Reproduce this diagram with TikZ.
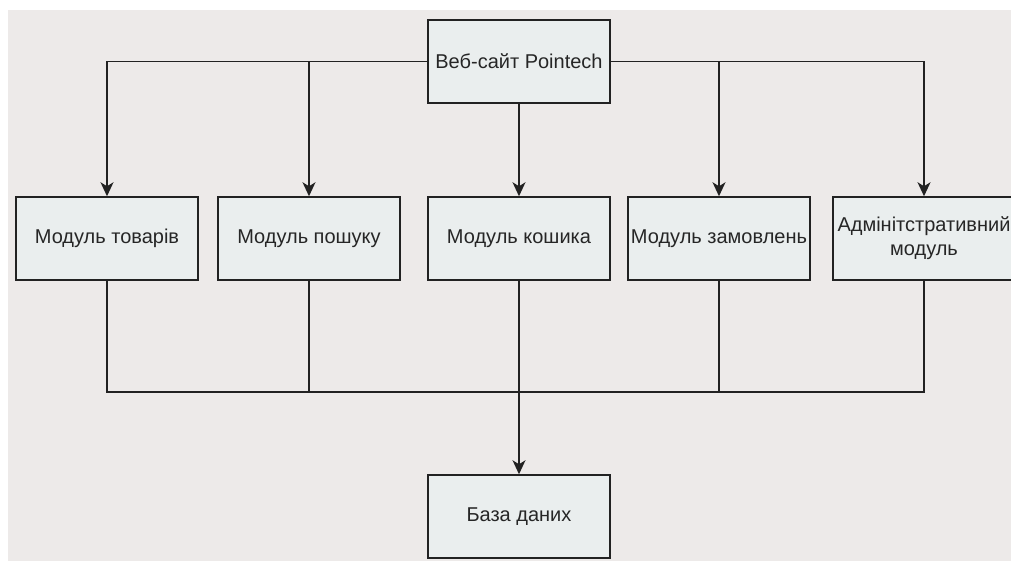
\documentclass[tikz,border=0pt]{standalone}
\usepackage{fontspec}
\setmainfont{Liberation Sans}
\usepackage{xcolor}
\usepackage{tikz}
\usetikzlibrary{arrows.meta,positioning}

\definecolor{pagebg}{RGB}{237,234,233}
\definecolor{boxfill}{RGB}{234,238,238}
\definecolor{linecol}{RGB}{34,34,34}

\begin{document}
\begin{tikzpicture}[
  x=1pt, y=-1pt,
  module/.style={draw=linecol, line width=1.5pt, fill=boxfill, minimum width=182pt,
                 minimum height=83pt, align=center, inner sep=2pt,
                 font=\fontsize{20}{24}\selectfont, text=black!85},
  link/.style={draw=linecol, line width=1.5pt},
  arrow/.style={link, -{Stealth[length=14pt, width=13pt, inset=4pt]}}
]
  \useasboundingbox (0,0) rectangle (1011,561);
  \clip (0,0) rectangle (1011,561);
  \fill[white] (0,0) rectangle (1011,561);
  \fill[pagebg] (8,10) rectangle (1011,561);

  \node[module] (site) at (519,61.5) {Веб-сайт Pointech};

  \node[module] (goods)  at (107,238.5) {Модуль товарів};
  \node[module] (search) at (309,238.5) {Модуль пошуку};
  \node[module] (cart)   at (519,238.5) {Модуль кошика};
  \node[module] (orders) at (719,238.5) {Модуль замовлень};
  \node[module] (admin)  at (924,238.5) {Адмінітстративний\\модуль};

  \node[module] (db) at (519,516.5) {База даних};

  \coordinate (bus) at (519,392);

  \draw[arrow] (site.west) -| (goods.north);
  \draw[arrow] (site.west) -| (search.north);
  \draw[arrow] (site) -- (cart);
  \draw[arrow] (site.east) -| (orders.north);
  \draw[arrow] (site.east) -| (admin.north);

  \draw[link] (goods.south) |- (bus);
  \draw[link] (search.south) |- (bus);
  \draw[link] (orders.south) |- (bus);
  \draw[link] (admin.south) |- (bus);
  \draw[arrow] (cart) -- (db);
\end{tikzpicture}
\end{document}
